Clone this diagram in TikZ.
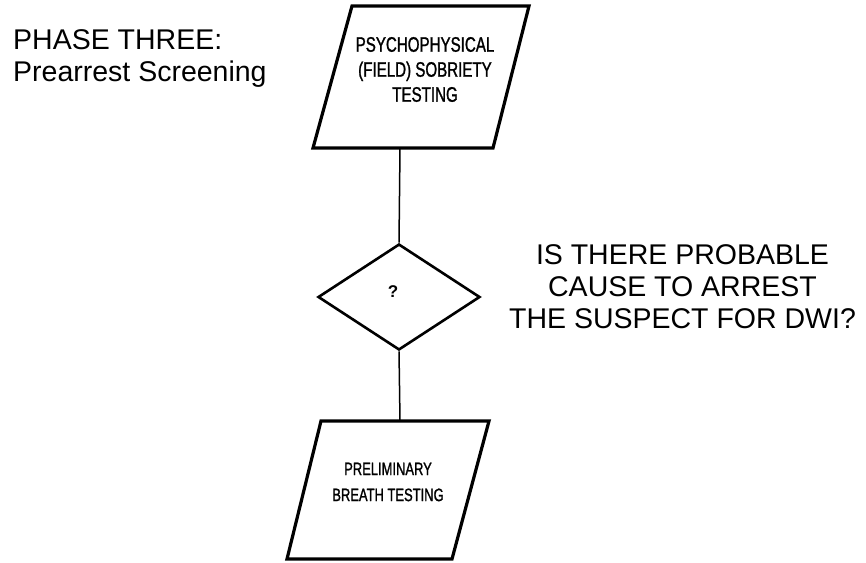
\documentclass[tikz,border=0pt]{standalone}
\usepackage{fontspec}
\setmainfont{Liberation Sans}
\newfontfamily\narrowfont[FakeStretch=0.72,FakeBold=1.2]{Liberation Sans}
\usetikzlibrary{shapes.geometric}
\begin{document}
\begin{tikzpicture}[x=1pt,y=1pt,
  boxline/.style={line width=3.2pt, line join=miter},
  conn/.style={line width=1.5pt},
  boxtext/.style={inner sep=0pt, align=center, font=\narrowfont\fontsize{21}{25}\selectfont},
  bigtext/.style={inner sep=0pt, font=\fontsize{28.5}{32}\selectfont},
  decision/.style={diamond, draw, line width=2.6pt, inner sep=0pt, minimum width=162pt, minimum height=106pt, shape aspect=1.53}
]
\useasboundingbox (0,0) rectangle (866,-562);
\fill[white] (0,0) rectangle (866,-562);

% heading
\node[bigtext, anchor=west, align=left] (head) at (13,-58.5) {PHASE THREE:\\Prearrest Screening};

% top parallelogram
\coordinate (a1) at (352,-6);
\coordinate (a2) at (529,-6);
\coordinate (a3) at (493,-148);
\coordinate (a4) at (313,-148);
\draw[boxline] (a1) -- (a2) -- (a3) -- (a4) -- cycle;
\node[boxtext] (field) at (425,-69.5) {PSYCHOPHYSICAL\\(FIELD) SOBRIETY\\TESTING};
\coordinate (fieldbot) at (400,-148);

% decision
\node[decision] (dec) at (399,-297) {};
\node[inner sep=0pt, font=\bfseries\fontsize{17}{20}\selectfont] (qm) at (393,-292) {?};

% question text
\node[bigtext, align=center] (question) at (682.5,-286.5) {IS THERE PROBABLE\\CAUSE TO ARREST\\THE SUSPECT FOR DWI?};

% bottom parallelogram
\coordinate (b1) at (321,-421);
\coordinate (b2) at (489,-421);
\coordinate (b3) at (452,-559);
\coordinate (b4) at (287,-559);
\draw[boxline] (b1) -- (b2) -- (b3) -- (b4) -- cycle;
\node[boxtext, font=\narrowfont\fontsize{18}{26}\selectfont] (breath) at (388,-482) {PRELIMINARY\\BREATH TESTING};
\coordinate (breathtop) at (400,-421);

% connectors
\draw[conn] (fieldbot) -- (dec.north);
\draw[conn] (dec.south) -- (breathtop);
\end{tikzpicture}
\end{document}
